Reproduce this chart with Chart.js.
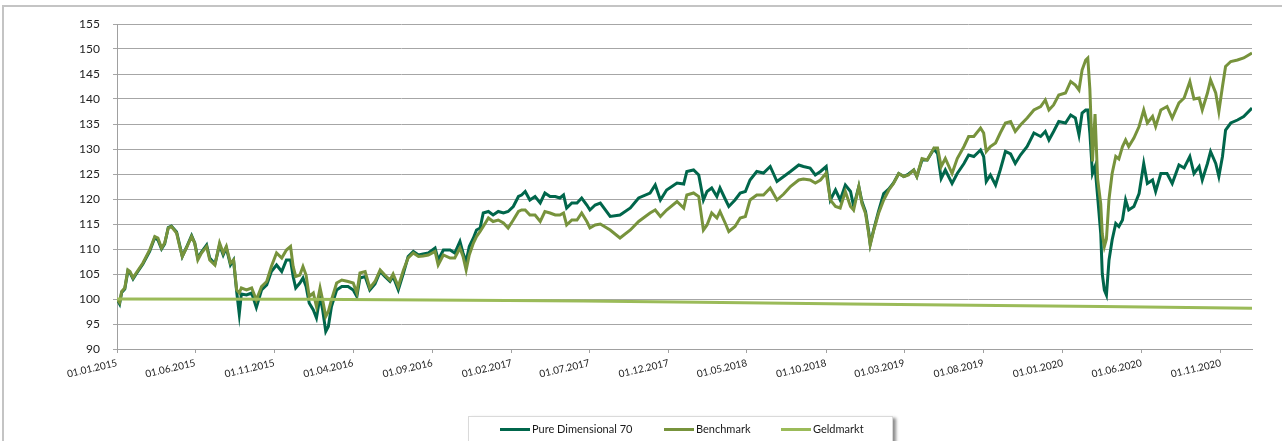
<!DOCTYPE html>
<html>
<head>
<meta charset="utf-8">
<script src="https://cdn.jsdelivr.net/npm/chart.js@4.4.1/dist/chart.umd.min.js"></script>
<style>
  html, body { margin: 0; padding: 0; background: #fff; }
  #wrap { position: relative; width: 1282px; height: 441px; overflow: hidden; }
  #frame { position: absolute; left: 2px; top: 5px; width: 1300px; height: 460px;
           border-top: 2px solid #c4c4c4; border-left: 2px solid #c4c4c4; }
  #c { position: absolute; left: 0; top: 0; }
  #legend { position: absolute; left: 468px; top: 416px; width: 423px; height: 40px;
            border: 1px solid #dadada; background: #fff;
            box-shadow: 3px 2px 3px rgba(0,0,0,0.45);
            font-family: Lato, "Open Sans", sans-serif; font-size: 11px; color: #1a1a1a; }
  .item { position: absolute; top: 4px; height: 16px; white-space: nowrap; }
  .swatch { position: absolute; left: 0; top: 7px; width: 30px; height: 3px; }
  .txt { position: absolute; left: 32px; top: 0; line-height: 16px; }
</style>
</head>
<body>
<div id="wrap">
  <div id="frame"></div>
  <canvas id="c" width="1282" height="441"></canvas>
  <div id="legend"></div>
</div>
<script>
// ---- data ----
// x positions: days since 01.01.2015
const days = [0,5,9,15,21,25,31,37,50,63,73,79,86,92,99,105,115,121,126,134,144,150,156,163,173,179,189,198,205,211,219,225,231,236,240,250,260,269,279,289,298,308,318,327,335,340,345,353,359,365,371,379,385,392,397,403,408,414,424,434,446,456,463,469,479,488,498,508,517,527,533,543,553,562,572,582,591,601,614,620,630,643,652,662,668,674,680,688,694,701,707,717,726,736,746,755,765,775,781,788,797,807,817,826,836,846,855,862,868,878,888,897,907,913,923,933,952,971,991,1007,1029,1039,1049,1061,1081,1094,1100,1113,1123,1132,1139,1148,1158,1164,1174,1181,1193,1203,1213,1222,1235,1248,1261,1274,1287,1300,1316,1325,1338,1348,1358,1369,1377,1387,1396,1406,1416,1422,1432,1438,1445,1451,1454,1461,1470,1480,1490,1499,1509,1519,1528,1538,1544,1554,1564,1577,1584,1591,1599,1612,1622,1635,1644,1654,1667,1673,1678,1686,1696,1705,1715,1725,1734,1744,1757,1770,1783,1792,1799,1808,1818,1831,1841,1850,1857,1863,1870,1874,1878,1883,1888,1893,1899,1902,1906,1910,1915,1921,1928,1934,1941,1947,1953,1963,1973,1982,1989,1999,2005,2015,2027,2037,2050,2060,2071,2079,2089,2095,2105,2111,2121,2127,2134,2140,2150,2163,2175,2191];

const pureDimensional70 = [100,99.0,101.3,102.0,105.6,105.3,104.0,105.0,107.0,109.5,112.3,111.8,110.0,111.0,114.3,114.6,113.4,110.8,108.5,110.3,112.7,111.2,108.2,109.4,110.8,108.2,107.0,110.8,108.8,110.2,106.8,107.8,101.5,97.0,101.0,100.8,101.2,98.3,101.8,102.8,105.5,106.8,105.5,107.8,107.8,104.5,102.2,103.2,104.2,102.5,99.2,97.8,96.2,100.5,97.8,93.5,94.5,98.5,101.8,102.5,102.5,101.8,100.5,104.2,104.5,101.8,103.0,105.5,104.5,103.5,104.5,101.8,105.2,108.5,109.5,108.8,109.0,109.2,110.2,107.8,109.8,109.8,109.2,111.5,109.2,107.5,110.5,112.2,113.8,114.2,117.2,117.5,116.8,117.5,117.2,117.5,118.5,120.5,120.8,121.5,119.8,120.5,119.2,121.2,120.5,120.5,120.2,120.8,118.2,119.2,119.2,120.2,118.8,117.8,118.8,119.2,116.5,116.8,118.2,120.2,121.2,122.8,119.8,121.8,123.2,123.0,125.5,125.8,124.8,119.8,121.5,122.2,120.5,122.2,120.0,118.5,119.8,121.2,121.5,123.8,125.5,125.2,126.5,123.5,124.5,125.5,126.8,126.5,126.2,124.8,125.5,126.5,119.8,121.8,119.8,122.8,121.5,118.5,122.5,119.5,117.5,113.5,111.0,114.0,117.5,121.1,122.0,123.2,125.1,124.5,125.0,125.8,124.5,127.8,127.8,130.0,129.1,124.1,125.8,123.1,125.1,127.1,128.8,128.5,129.8,128.5,123.5,124.8,122.8,125.8,129.5,129.0,127.1,128.8,130.5,133.2,132.5,133.5,131.8,133.5,135.5,135.2,136.8,136.2,132.8,137.2,137.8,137.8,133.2,125.1,126.5,120.5,113.1,105.0,101.8,100.8,107.8,111.8,115.1,114.5,115.8,119.8,117.8,118.5,121.1,127.1,123.1,123.8,121.5,125.1,125.1,123.1,126.8,126.2,128.5,125.1,126.5,123.8,127.1,129.5,127.1,124.5,128.5,133.8,135.2,135.8,136.5,138.2];

const benchmark = [100,99.3,101.5,102.2,105.8,105.5,104.2,105.2,107.2,109.8,112.5,112.2,110.2,111.2,114.2,114.5,113.2,110.5,108.5,110.2,112.5,111.2,107.8,109.2,110.5,107.8,106.8,111.2,109.2,110.5,107.2,107.8,101.8,101.2,102.2,101.8,102.2,99.8,102.5,103.5,106.5,109.2,108.2,109.8,110.5,106.5,104.5,104.8,106.5,104.8,100.5,101.2,98.5,102.2,99.8,96.5,97.5,99.8,103.2,103.8,103.5,103.2,101.2,105.2,105.5,102.2,103.5,105.8,104.8,103.8,105.0,102.5,105.8,108.2,109.2,108.5,108.6,108.8,109.5,106.8,108.8,108.2,108.2,110.2,108.5,105.8,108.8,111.2,112.5,113.5,114.5,116.2,115.5,115.8,115.2,114.2,115.8,117.5,117.8,117.8,116.8,116.8,115.5,117.5,117.2,116.8,116.8,117.2,114.8,115.8,115.8,117.2,115.5,114.2,114.8,115.0,113.8,112.2,113.8,115.5,117.2,117.8,116.5,117.8,119.5,118.2,120.8,121.2,120.5,113.8,114.8,117.2,116.2,117.5,115.2,113.5,114.5,116.2,116.5,119.8,120.8,120.8,122.2,119.8,121.0,122.5,123.8,124.0,123.8,123.2,123.8,125.2,119.8,118.5,118.2,121.5,118.5,117.8,122.5,119.1,117.1,113.1,110.8,113.8,117.1,119.8,121.8,123.1,125.1,124.5,124.8,125.8,124.5,128.1,127.8,130.2,130.2,126.5,128.1,125.1,128.1,130.5,132.5,132.5,134.2,133.2,129.5,130.5,131.2,133.2,135.2,135.5,133.5,134.8,136.2,137.8,138.5,139.8,137.8,138.8,140.8,141.2,143.5,142.8,141.8,145.8,147.8,148.2,142.0,127.5,137.0,124.0,119.0,113.0,110.5,112.0,120.0,125.1,128.5,128.0,130.5,131.8,130.5,132.2,134.5,137.8,135.2,136.5,134.5,137.8,138.5,136.2,139.2,140.2,143.5,140.0,140.2,137.8,141.2,143.8,141.2,137.5,142.5,146.5,147.5,147.8,148.2,149.2];

const moneyDays = [0,365,604,900,1125,1416,1700,1900,2191];
const geldmarkt = [100.0,99.95,99.8,99.6,99.35,99.0,98.7,98.5,98.15];

const seriesNames = ['Pure Dimensional 70','Benchmark','Geldmarkt'];
const tickLabels = ['01.01.2015','01.06.2015','01.11.2015','01.04.2016','01.09.2016','01.02.2017','01.07.2017','01.12.2017','01.05.2018','01.10.2018','01.03.2019','01.08.2019','01.01.2020','01.06.2020','01.11.2020'];
const lastDay = 2191; // 31.12.2020

// ---- helpers ----
function dayOf(label) {
  const [d, m, y] = label.split('.').map(Number);
  return Math.round((Date.UTC(y, m - 1, d) - Date.UTC(2015, 0, 1)) / 864e5);
}
const labelByDay = {};
tickLabels.forEach(l => { labelByDay[dayOf(l)] = l; });
const pts = (xs, ys) => xs.map((x, i) => ({ x: x, y: ys[i] }));

const colors = ['#00664b', '#77933c', '#9bbb59'];

const chart = new Chart(document.getElementById('c'), {
  type: 'line',
  data: {
    datasets: [
      { label: seriesNames[0], data: pts(days, pureDimensional70), borderColor: colors[0], backgroundColor: colors[0], borderWidth: 3, pointRadius: 0, tension: 0, order: 3 },
      { label: seriesNames[1], data: pts(days, benchmark), borderColor: colors[1], backgroundColor: colors[1], borderWidth: 3, pointRadius: 0, tension: 0, order: 2 },
      { label: seriesNames[2], data: pts(moneyDays, geldmarkt), borderColor: colors[2], backgroundColor: colors[2], borderWidth: 3, pointRadius: 0, tension: 0, order: 1 }
    ]
  },
  options: {
    responsive: false,
    animation: false,
    layout: { padding: { left: 0, right: 30, top: 24, bottom: 0 } },
    plugins: { legend: { display: false }, tooltip: { enabled: false } },
    scales: {
      x: {
        type: 'linear', min: 0, max: lastDay,
        afterBuildTicks: s => { s.ticks = tickLabels.map(l => ({ value: dayOf(l) })); },
        afterFit: s => { s.height = 92; },
        ticks: {
          autoSkip: false, minRotation: 13, maxRotation: 13, padding: 4,
          callback: v => labelByDay[v] || '',
          font: { family: 'Lato', size: 10 }, color: '#222'
        },
        grid: { drawOnChartArea: false, drawTicks: true, tickLength: 4, color: '#a0a0a0' },
        border: { color: '#a0a0a0' }
      },
      y: {
        min: 90, max: 155,
        afterFit: s => { s.width = 117; },
        ticks: { stepSize: 5, padding: 13, font: { family: 'Lato', size: 12 }, color: '#222' },
        grid: { color: '#a6a6a6', tickLength: 4 },
        border: { color: '#a0a0a0' }
      }
    }
  }
});

// HTML legend built from the chart's datasets
const legendLefts = [31, 195, 312];
const leg = document.getElementById('legend');
chart.data.datasets.forEach((ds, i) => {
  const it = document.createElement('div');
  it.className = 'item';
  it.style.left = legendLefts[i] + 'px';
  it.innerHTML = '<span class="swatch" style="background:' + ds.borderColor + '"></span><span class="txt">' + ds.label + '</span>';
  leg.appendChild(it);
});
</script>
</body>
</html>
